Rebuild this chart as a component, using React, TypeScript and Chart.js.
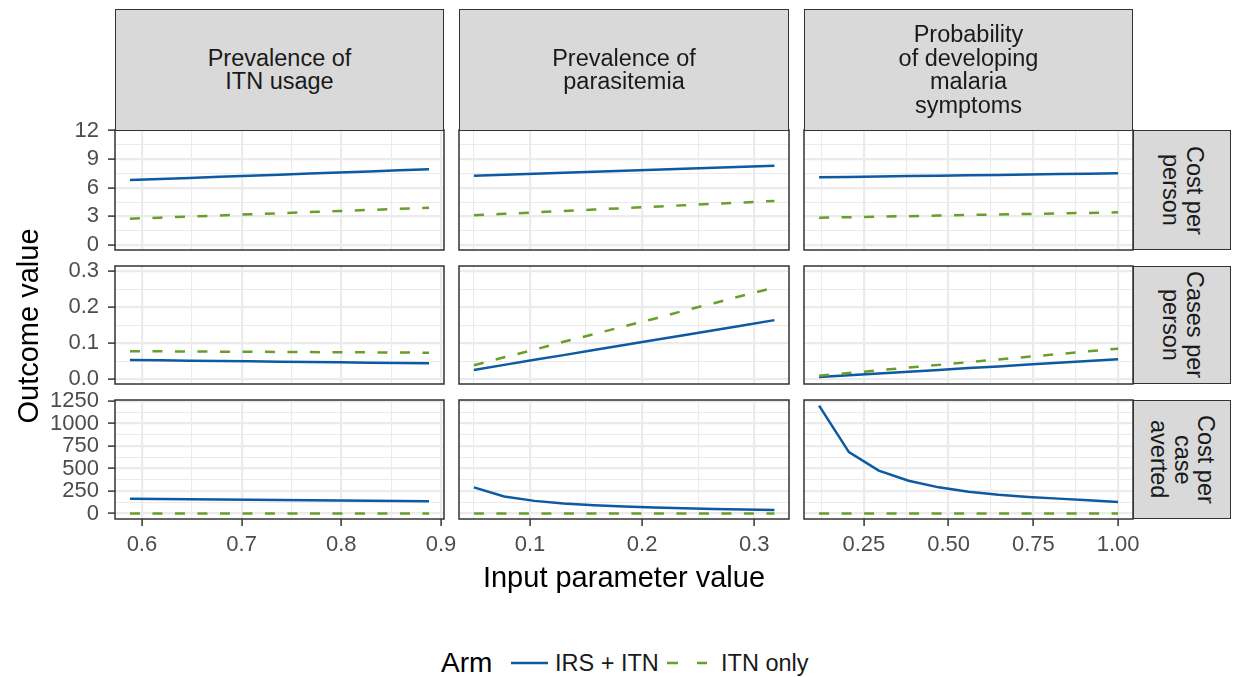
import React, { useEffect, useRef } from 'react';
import { Chart, registerables } from 'chart.js';

Chart.register(...registerables);

const FONT = "'Liberation Sans', Arial, Helvetica, sans-serif";

// ---- Facet categories ----
const COLUMN_LABELS = ['Prevalence of\nITN usage', 'Prevalence of\nparasitemia', 'Probability\nof developing\nmalaria\nsymptoms'];
const ROW_LABELS = ['Cost per\nperson', 'Cases per\nperson', 'Cost per\ncase\naverted'];
const ARM_LABELS = ['IRS + ITN', 'ITN only'];
const ARM_COLORS = ['#0B5AA2', '#6A9E2A'];

// ---- Input parameter values (x) per column ----
const X_ITN_USAGE = [0.588, 0.618, 0.648, 0.678, 0.708, 0.738, 0.768, 0.798, 0.828, 0.858, 0.888];
const X_PARASITEMIA = [0.050, 0.077, 0.104, 0.130, 0.157, 0.184, 0.211, 0.237, 0.264, 0.291, 0.318];
const X_SYMPTOMS = [0.118, 0.206, 0.294, 0.382, 0.471, 0.559, 0.647, 0.735, 0.824, 0.912, 1.000];

// ---- Cost per person ----
const COST_IRS_USAGE = [6.82, 6.93, 7.04, 7.16, 7.27, 7.38, 7.49, 7.60, 7.72, 7.83, 7.94];
const COST_ITN_USAGE = [2.76, 2.87, 2.99, 3.10, 3.22, 3.33, 3.45, 3.56, 3.68, 3.79, 3.91];
const COST_IRS_PARA = [7.27, 7.38, 7.48, 7.59, 7.69, 7.80, 7.90, 8.01, 8.11, 8.22, 8.32];
const COST_ITN_PARA = [3.12, 3.27, 3.42, 3.57, 3.72, 3.87, 4.02, 4.17, 4.32, 4.47, 4.62];
const COST_IRS_SYMP = [7.10, 7.14, 7.18, 7.23, 7.27, 7.31, 7.35, 7.39, 7.44, 7.48, 7.52];
const COST_ITN_SYMP = [2.86, 2.92, 2.97, 3.03, 3.09, 3.15, 3.20, 3.26, 3.32, 3.37, 3.43];

// ---- Cases per person ----
const CASES_IRS_USAGE = [0.0535, 0.0526, 0.0517, 0.0507, 0.0498, 0.0489, 0.0480, 0.0471, 0.0461, 0.0452, 0.0443];
const CASES_ITN_USAGE = [0.0780, 0.0776, 0.0771, 0.0767, 0.0763, 0.0759, 0.0754, 0.0750, 0.0746, 0.0741, 0.0737];
const CASES_IRS_PARA = [0.026, 0.040, 0.054, 0.067, 0.081, 0.095, 0.109, 0.122, 0.136, 0.150, 0.164];
const CASES_ITN_PARA = [0.039, 0.061, 0.082, 0.104, 0.125, 0.147, 0.168, 0.190, 0.211, 0.233, 0.254];
const CASES_IRS_SYMP = [0.0065, 0.0114, 0.0163, 0.0212, 0.0261, 0.0310, 0.0358, 0.0407, 0.0456, 0.0505, 0.0554];
const CASES_ITN_SYMP = [0.0100, 0.0175, 0.0250, 0.0325, 0.0400, 0.0475, 0.0550, 0.0625, 0.0700, 0.0775, 0.0850];

// ---- Cost per case averted ----
const CPCA_IRS_USAGE = [166, 163, 160, 157, 154, 151, 148, 145, 142, 139, 136];
const CPCA_ITN_USAGE = [0, 0, 0, 0, 0, 0, 0, 0, 0, 0, 0];
const CPCA_IRS_PARA = [291, 190, 141, 112, 92, 78, 67, 58, 51, 45, 39];
const CPCA_ITN_PARA = [0, 0, 0, 0, 0, 0, 0, 0, 0, 0, 0];
const CPCA_IRS_SYMP = [1198, 682, 476, 365, 291, 243, 210, 185, 166, 147, 129];
const CPCA_ITN_SYMP = [0, 0, 0, 0, 0, 0, 0, 0, 0, 0, 0];

// ---- Tick values and labels ----
const X_TICKS = [[0.6, 0.7, 0.8, 0.9], [0.1, 0.2, 0.3], [0.25, 0.5, 0.75, 1.0]];
const X_TICK_LABELS = [['0.6', '0.7', '0.8', '0.9'], ['0.1', '0.2', '0.3'], ['0.25', '0.50', '0.75', '1.00']];
const Y_TICKS = [[0, 3, 6, 9, 12], [0, 0.1, 0.2, 0.3], [0, 250, 500, 750, 1000, 1250]];
const Y_TICK_LABELS = [['0', '3', '6', '9', '12'], ['0.0', '0.1', '0.2', '0.3'], ['0', '250', '500', '750', '1000', '1250']];
const X_LIMITS = [[0.573, 0.903], [0.0367, 0.331], [0.0735, 1.044]];
const Y_LIMITS = [[-0.52, 12.06], [-0.013, 0.314], [-60, 1260]];

const X_BY_COL = [X_ITN_USAGE, X_PARASITEMIA, X_SYMPTOMS];
const SERIES = [
  [[COST_IRS_USAGE, COST_ITN_USAGE], [COST_IRS_PARA, COST_ITN_PARA], [COST_IRS_SYMP, COST_ITN_SYMP]],
  [[CASES_IRS_USAGE, CASES_ITN_USAGE], [CASES_IRS_PARA, CASES_ITN_PARA], [CASES_IRS_SYMP, CASES_ITN_SYMP]],
  [[CPCA_IRS_USAGE, CPCA_ITN_USAGE], [CPCA_IRS_PARA, CPCA_ITN_PARA], [CPCA_IRS_SYMP, CPCA_ITN_SYMP]],
];

// ---- Layout ----
const PANEL_LEFT = [115, 459, 804];
const PANEL_W = [329, 330, 329];
const PANEL_TOP = [130, 266, 400];
const PANEL_H = [120, 118, 119];
const STRIP_TOP = 9;
const RIGHT_STRIP_W = 98;
const Y_AXIS_W = 70;
const X_AXIS_H = 40;
const PAD = { left: 10, top: 16, right: 30, bottom: 10 };

function gridTicks(majors: number[], min: number, max: number) {
  const out: { value: number; major: boolean }[] = majors.filter(v => v >= min && v <= max).map(v => ({ value: v, major: true }));
  const step = majors[1] - majors[0];
  const cands = [majors[0] - step / 2, ...majors.map(v => v + step / 2)];
  for (const c of cands) if (c > min && c < max) out.push({ value: c, major: false });
  return out.sort((a, b) => a.value - b.value);
}

function labelFor(value: number, majors: number[], labels: string[]) {
  for (let i = 0; i < majors.length; i++) if (Math.abs(majors[i] - value) < 1e-9) return labels[i];
  return '';
}

const framePlugin = {
  id: 'panelFrame',
  afterDraw(chart: any) {
    const { ctx, chartArea: a } = chart;
    ctx.save();
    ctx.strokeStyle = '#333333';
    ctx.lineWidth = 1.5;
    ctx.strokeRect(a.left, a.top, a.right - a.left, a.bottom - a.top);
    ctx.restore();
  },
};

function makeGrid(showTicks: boolean) {
  return {
    color: '#EBEBEB',
    lineWidth: (ctx: any) => (ctx.tick && ctx.tick.major ? 2.2 : 1.1),
    drawTicks: showTicks,
    tickLength: 7,
    tickWidth: 1.5,
    tickColor: (ctx: any) => (ctx.tick && ctx.tick.major ? '#333333' : 'rgba(0,0,0,0)'),
  };
}

function Panel({ row, col }: { row: number; col: number }) {
  const ref = useRef<HTMLCanvasElement>(null);
  const showY = col === 0;
  const showX = row === 2;
  const left = PANEL_LEFT[col] - PAD.left - (showY ? Y_AXIS_W : 0);
  const top = PANEL_TOP[row] - PAD.top;
  const width = PANEL_W[col] + PAD.left + PAD.right + (showY ? Y_AXIS_W : 0);
  const height = PANEL_H[row] + PAD.top + PAD.bottom + (showX ? X_AXIS_H : 0);

  useEffect(() => {
    const xs = X_BY_COL[col];
    const [irs, itn] = SERIES[row][col];
    const [xmin, xmax] = X_LIMITS[col];
    const [ymin, ymax] = Y_LIMITS[row];
    const chart = new Chart(ref.current as HTMLCanvasElement, {
      type: 'line',
      data: {
        datasets: [
          {
            label: ARM_LABELS[0],
            data: xs.map((x, i) => ({ x, y: irs[i] })),
            borderColor: ARM_COLORS[0],
            borderWidth: 2.5,
            pointRadius: 0,
            tension: 0,
            fill: false,
            order: 1,
          },
          {
            label: ARM_LABELS[1],
            data: xs.map((x, i) => ({ x, y: itn[i] })),
            borderColor: ARM_COLORS[1],
            borderWidth: 2.5,
            borderDash: [10, 12.5],
            borderCapStyle: 'butt',
            pointRadius: 0,
            tension: 0,
            fill: false,
            order: 0,
          },
        ],
      },
      options: {
        animation: false,
        responsive: false,
        maintainAspectRatio: false,
        devicePixelRatio: 1,
        layout: { padding: PAD },
        plugins: { legend: { display: false }, tooltip: { enabled: false }, title: { display: false } },
        scales: {
          x: {
            type: 'linear',
            position: 'bottom',
            bounds: 'data',
            min: xmin,
            max: xmax,
            afterBuildTicks: (s: any) => { s.ticks = gridTicks(X_TICKS[col], xmin, xmax); },
            afterFit: (s: any) => {
              s.height = showX ? X_AXIS_H : 0;
              s.paddingLeft = 0; s.paddingRight = 0; s.paddingTop = 0; s.paddingBottom = 0;
            },
            ticks: {
              display: showX,
              autoSkip: false,
              maxRotation: 0,
              minRotation: 0,
              padding: 6,
              color: '#4D4D4D',
              font: { family: FONT, size: 22 },
              callback: (v: any) => labelFor(Number(v), X_TICKS[col], X_TICK_LABELS[col]),
            },
            grid: makeGrid(showX),
            border: { display: false },
          },
          y: {
            type: 'linear',
            position: 'left',
            bounds: 'data',
            min: ymin,
            max: ymax,
            afterBuildTicks: (s: any) => { s.ticks = gridTicks(Y_TICKS[row], ymin, ymax); },
            afterFit: (s: any) => {
              s.width = showY ? Y_AXIS_W : 0;
              s.paddingLeft = 0; s.paddingRight = 0; s.paddingTop = 0; s.paddingBottom = 0;
            },
            ticks: {
              display: showY,
              autoSkip: false,
              padding: 9,
              color: '#4D4D4D',
              font: { family: FONT, size: 22 },
              callback: (v: any) => labelFor(Number(v), Y_TICKS[row], Y_TICK_LABELS[row]),
            },
            grid: makeGrid(showY),
            border: { display: false },
          },
        },
      } as any,
      plugins: [framePlugin],
    });
    return () => chart.destroy();
  }, [row, col]);

  return (
    <canvas
      ref={ref}
      width={width}
      height={height}
      style={{ position: 'absolute', left, top, width, height }}
    />
  );
}

const stripBase: React.CSSProperties = {
  position: 'absolute',
  boxSizing: 'border-box',
  background: '#D9D9D9',
  border: '1.5px solid #333333',
  color: '#1A1A1A',
  fontFamily: FONT,
  fontSize: 23.5,
  lineHeight: '23.5px',
  whiteSpace: 'pre-line',
  textAlign: 'center',
  display: 'flex',
  alignItems: 'center',
  justifyContent: 'center',
};

export default function App() {
  const panels: JSX.Element[] = [];
  for (let r = 0; r < 3; r++) for (let c = 0; c < 3; c++) panels.push(<Panel key={`${r}-${c}`} row={r} col={c} />);
  const rightEdge = PANEL_LEFT[2] + PANEL_W[2];
  return (
    <div style={{ position: 'absolute', left: 0, top: 0, width: 1235, height: 677, overflow: 'hidden', background: '#FFFFFF', fontFamily: FONT }}>
      {panels}
      {COLUMN_LABELS.map((lab, c) => (
        <div key={`cs${c}`} style={{ ...stripBase, left: PANEL_LEFT[c], top: STRIP_TOP, width: PANEL_W[c], height: PANEL_TOP[0] - STRIP_TOP + 1 }}>
          {lab}
        </div>
      ))}
      {ROW_LABELS.map((lab, r) => (
        <div key={`rs${r}`} style={{ ...stripBase, left: rightEdge, top: PANEL_TOP[r], width: RIGHT_STRIP_W, height: PANEL_H[r], writingMode: 'vertical-rl' }}>
          {lab}
        </div>
      ))}
      <div style={{ position: 'absolute', left: 28 - 150, top: 326 - 17, width: 300, height: 34, lineHeight: '34px', textAlign: 'center', fontSize: 29, color: '#000', transform: 'rotate(-90deg)' }}>
        Outcome value
      </div>
      <div style={{ position: 'absolute', left: 324, top: 577 - 17, width: 600, height: 34, lineHeight: '34px', textAlign: 'center', fontSize: 29, color: '#000' }}>
        Input parameter value
      </div>
      <div style={{ position: 'absolute', left: 441, top: 663 - 17, height: 34, lineHeight: '34px', fontSize: 28, color: '#000' }}>Arm</div>
      <svg style={{ position: 'absolute', left: 510, top: 653 }} width={40} height={20}>
        <line x1={1} y1={10} x2={38} y2={10} stroke={ARM_COLORS[0]} strokeWidth={2.5} />
      </svg>
      <div style={{ position: 'absolute', left: 555, top: 663 - 14, height: 28, lineHeight: '28px', fontSize: 23.5, color: '#1A1A1A' }}>{ARM_LABELS[0]}</div>
      <svg style={{ position: 'absolute', left: 666, top: 653 }} width={44} height={20}>
        <line x1={1} y1={10} x2={41} y2={10} stroke={ARM_COLORS[1]} strokeWidth={2.5} strokeDasharray="11 19" />
      </svg>
      <div style={{ position: 'absolute', left: 721, top: 663 - 14, height: 28, lineHeight: '28px', fontSize: 23.5, color: '#1A1A1A' }}>{ARM_LABELS[1]}</div>
    </div>
  );
}
